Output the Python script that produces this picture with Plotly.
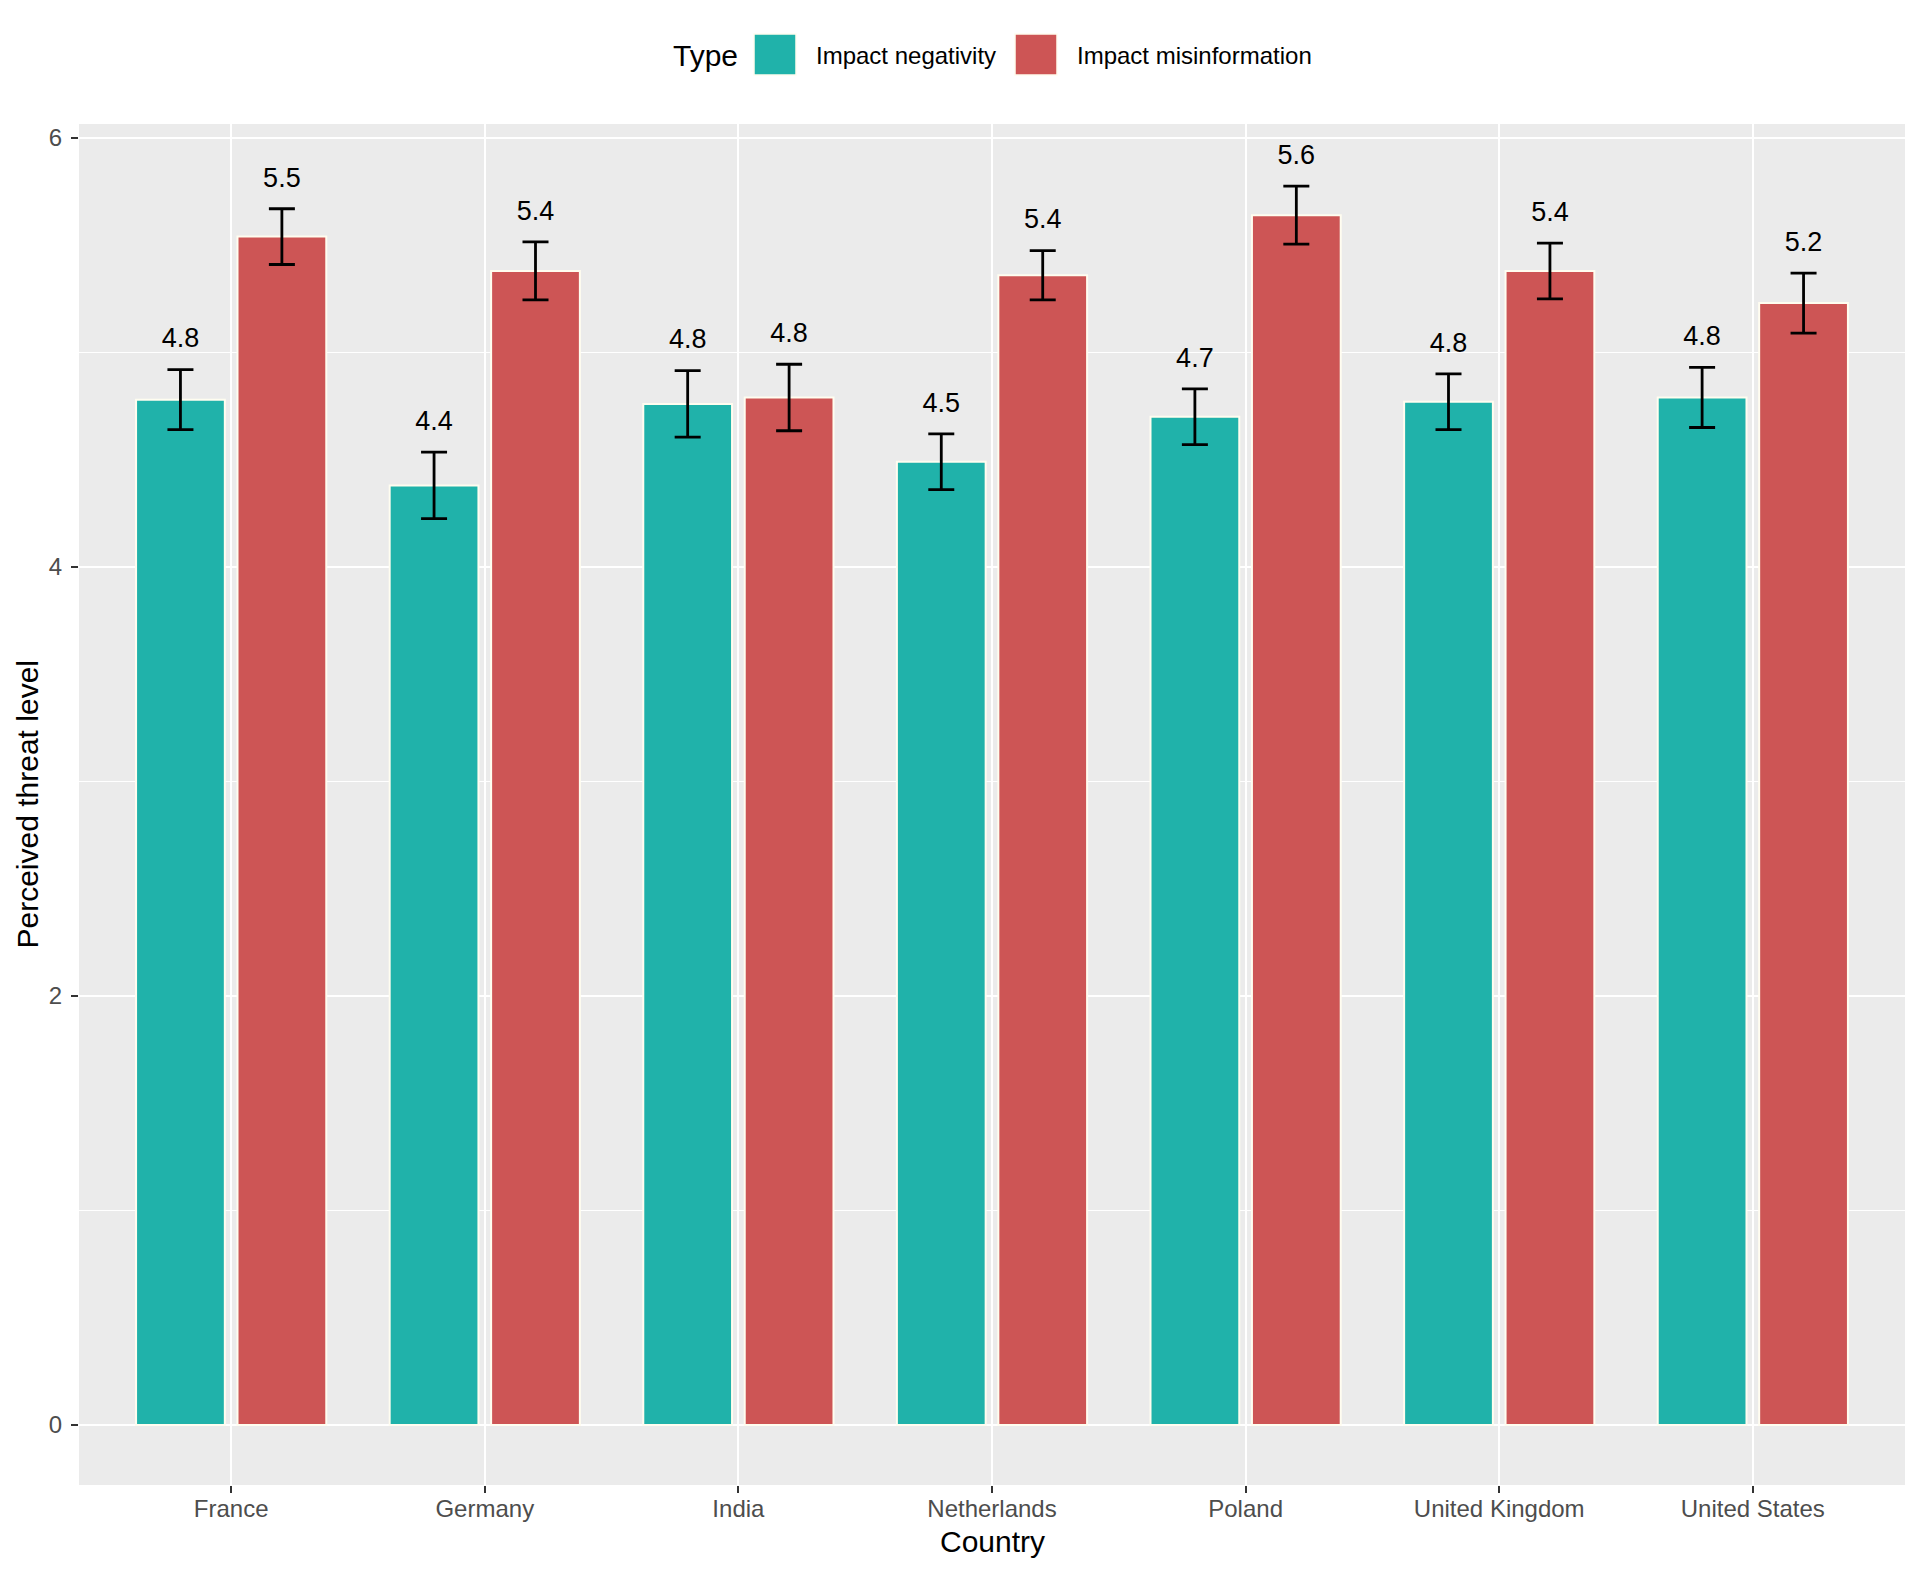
import plotly.graph_objects as go

# ---------------- data ----------------
countries = ["France", "Germany", "India", "Netherlands", "Poland",
             "United Kingdom", "United States"]
negativity = [4.78, 4.38, 4.76, 4.49, 4.70, 4.77, 4.79]
negativity_se = [0.14, 0.155, 0.155, 0.13, 0.13, 0.13, 0.14]
misinformation = [5.54, 5.38, 4.79, 5.36, 5.64, 5.38, 5.23]
misinformation_se = [0.13, 0.135, 0.155, 0.115, 0.135, 0.13, 0.14]
series_names = ["Impact negativity", "Impact misinformation"]
y_ticks = [0, 2, 4, 6]

# ---------------- style ----------------
COL_NEG = "#20B2AA"
COL_MIS = "#CD5555"
OUTLINE = "#FFFDF0"
FONT = "Liberation Sans, Arial, sans-serif"
DODGE = 0.2
BAR_W = 0.35
LABEL_PAD = 0.135

# page body has an 8px default margin -> compensate
W, H = 1912, 1566
ML, MR, MT, MB = 71, 15, 116, 89

idx = list(range(len(countries)))

fig = go.Figure()

for vals, se, col, name, off in [
    (negativity, negativity_se, COL_NEG, series_names[0], -DODGE),
    (misinformation, misinformation_se, COL_MIS, series_names[1], DODGE),
]:
    xs = [i + off for i in idx]
    fig.add_trace(go.Bar(
        x=xs, y=vals, width=BAR_W, name=name,
        marker=dict(color=col, line=dict(color=OUTLINE, width=2)),
        error_y=dict(type="data", array=se, visible=True,
                     color="black", thickness=2.8, width=13),
        showlegend=False,
    ))
    fig.add_trace(go.Scatter(
        x=xs, y=[v + s + LABEL_PAD for v, s in zip(vals, se)],
        mode="text", text=[f"{v:.1f}" for v in vals],
        textposition="middle center",
        textfont=dict(family=FONT, size=27, color="black"),
        showlegend=False, hoverinfo="skip",
    ))

fig.update_layout(
    width=W, height=H,
    margin=dict(l=ML, r=MR, t=MT, b=MB),
    paper_bgcolor="white",
    plot_bgcolor="#EBEBEB",
    barmode="overlay",
    font=dict(family=FONT, color="#4D4D4D"),
    showlegend=False,
)

fig.update_xaxes(
    range=[-0.6, len(countries) - 0.4],
    tickmode="array", tickvals=idx, ticktext=countries,
    showgrid=True, gridcolor="white", gridwidth=2,
    zeroline=False, showline=False,
    ticks="outside", ticklen=7, tickwidth=2, tickcolor="#333333",
    ticklabelstandoff=-5,
    tickfont=dict(family=FONT, size=24, color="#4D4D4D"),
)
fig.update_yaxes(
    range=[-0.28, 6.065],
    tickmode="array", tickvals=y_ticks,
    showgrid=True, gridcolor="white", gridwidth=2.2,
    minor=dict(dtick=1, tick0=0, showgrid=True, gridcolor="white", gridwidth=1),
    zeroline=False, showline=False,
    ticks="outside", ticklen=7, tickwidth=2, tickcolor="#333333",
    ticklabelstandoff=4,
    tickfont=dict(family=FONT, size=24, color="#4D4D4D"),
)

# axis titles
fig.add_annotation(text="Country", xref="paper", yref="paper", x=0.5, y=0,
                   yshift=-56, xanchor="center", yanchor="middle",
                   showarrow=False, font=dict(family=FONT, size=30, color="black"))
fig.add_annotation(text="Perceived threat level", xref="paper", yref="paper",
                   x=0, y=0.5, xshift=-52, xanchor="center", yanchor="middle",
                   textangle=-90, showarrow=False,
                   font=dict(family=FONT, size=30, color="black"))

# legend (drawn manually, ggplot-style large keys)
fig.add_annotation(text="Type", xref="paper", yref="paper", x=0, y=1,
                   xshift=592, yshift=69, xanchor="left", yanchor="middle",
                   showarrow=False, font=dict(family=FONT, size=30, color="black"))
for name, col, kx, tx in [(series_names[0], COL_NEG, 675, 735),
                          (series_names[1], COL_MIS, 936, 996)]:
    fig.add_shape(type="rect", xref="paper", yref="paper",
                  xsizemode="pixel", ysizemode="pixel",
                  xanchor=0, yanchor=1, x0=kx, x1=kx + 42, y0=49, y1=90,
                  fillcolor=col, line=dict(color=OUTLINE, width=1.5))
    fig.add_annotation(text=name, xref="paper", yref="paper", x=0, y=1,
                       xshift=tx, yshift=69, xanchor="left", yanchor="middle",
                       showarrow=False,
                       font=dict(family=FONT, size=24, color="black"))

fig.write_html("out.html")
